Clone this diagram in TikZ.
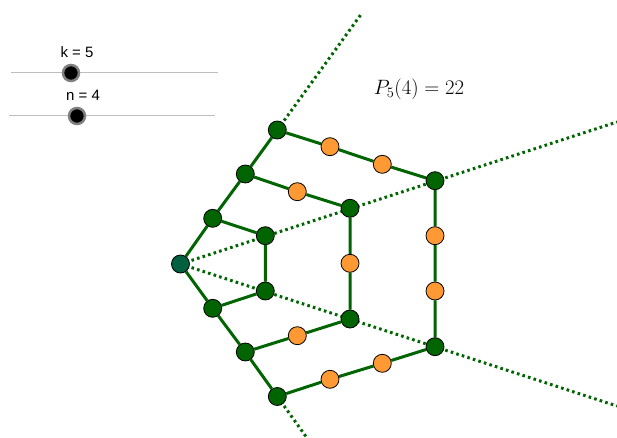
\documentclass[tikz,border=0pt]{standalone}
\usepackage{fontspec}
\newfontfamily\sliderfont{Liberation Sans}
\usetikzlibrary{backgrounds}
\definecolor{dgreen}{RGB}{0,100,0}
\definecolor{cgreen}{RGB}{0,96,64}
\definecolor{orng}{RGB}{255,153,51}
\definecolor{sgray}{RGB}{190,190,190}
\tikzset{
  gv/.style={circle,draw=black,line width=0.8pt,fill=dgreen,minimum size=18pt,inner sep=0pt},
  cv/.style={gv,fill=cgreen},
  ov/.style={gv,fill=orng},
  edge/.style={dgreen,line width=3pt},
  ray/.style={dgreen,line width=3pt,dash pattern=on 2.6pt off 3.2pt},
  sline/.style={sgray,line width=1pt},
  knob/.style={circle,fill=black,draw=gray,line width=2.5pt,minimum size=16pt,inner sep=0pt},
  slabel/.style={font=\sliderfont\fontsize{15}{17}\selectfont,inner sep=0pt}
}
\begin{document}
\begin{tikzpicture}[x=1pt,y=-1pt]
\useasboundingbox (0,0) rectangle (617,438);
% sliders
\coordinate (s1a) at (11,73); \coordinate (s1b) at (218,73);
\coordinate (s2a) at (9,116); \coordinate (s2b) at (215,116);
\draw[sline] (s1a) -- (s1b);
\draw[sline] (s2a) -- (s2b);
\node[knob] (k1) at (71,73) {};
\node[knob] (k2) at (77,116) {};
\node[slabel] (lk) at (77,52) {k = 5};
\node[slabel] (ln) at (83,95) {n = 4};
% formula
\node[inner sep=0pt,font=\fontsize{21.5}{24}\selectfont] (f) at (419,89) {$P_5(4)=22$};
% vertices
\node[cv] (c) at (180.5,264) {};
\node[gv] (a1) at (212.7,218.3) {};
\node[gv] (a2) at (245.3,174) {};
\node[gv] (a3) at (277.3,130) {};
\node[gv] (b1) at (212.7,308.3) {};
\node[gv] (b2) at (245.3,352) {};
\node[gv] (b3) at (277.3,396.5) {};
\node[gv] (i1) at (265.3,235.7) {};
\node[gv] (i2) at (265.3,291) {};
\node[gv] (m1) at (350,208.3) {};
\node[gv] (m2) at (350,319) {};
\node[gv] (t1) at (435,180.7) {};
\node[gv] (t2) at (435,346.7) {};
\node[ov] (om) at (350,263.3) {};
\node[ov] (ot1) at (435,235.7) {};
\node[ov] (ot2) at (435,291) {};
\node[ov] (u1) at (330,146.7) {};
\node[ov] (u2) at (382.3,164.3) {};
\node[ov] (v1) at (297.3,191.7) {};
\node[ov] (w1) at (297.3,335.7) {};
\node[ov] (l1) at (330,379.3) {};
\node[ov] (l2) at (382.3,363.3) {};
\coordinate (r1) at (617,122);
\coordinate (r2) at (617,406);
\coordinate (r3) at (362,13);
\coordinate (r4) at (307,438);
\begin{scope}[on background layer]
\draw[ray] (c.center) -- (r1);
\draw[ray] (c.center) -- (r2);
\draw[ray] (a3.center) -- (r3);
\draw[ray] (b3.center) -- (r4);
\draw[edge] (c) -- (a1) -- (a2) -- (a3);
\draw[edge] (c) -- (b1) -- (b2) -- (b3);
\draw[edge] (a1) -- (i1) -- (i2) -- (b1);
\draw[edge] (a2) -- (v1) -- (m1) -- (om) -- (m2) -- (w1) -- (b2);
\draw[edge] (a3) -- (u1) -- (u2) -- (t1) -- (ot1) -- (ot2) -- (t2) -- (l2) -- (l1) -- (b3);
\end{scope}
\end{tikzpicture}
\end{document}
